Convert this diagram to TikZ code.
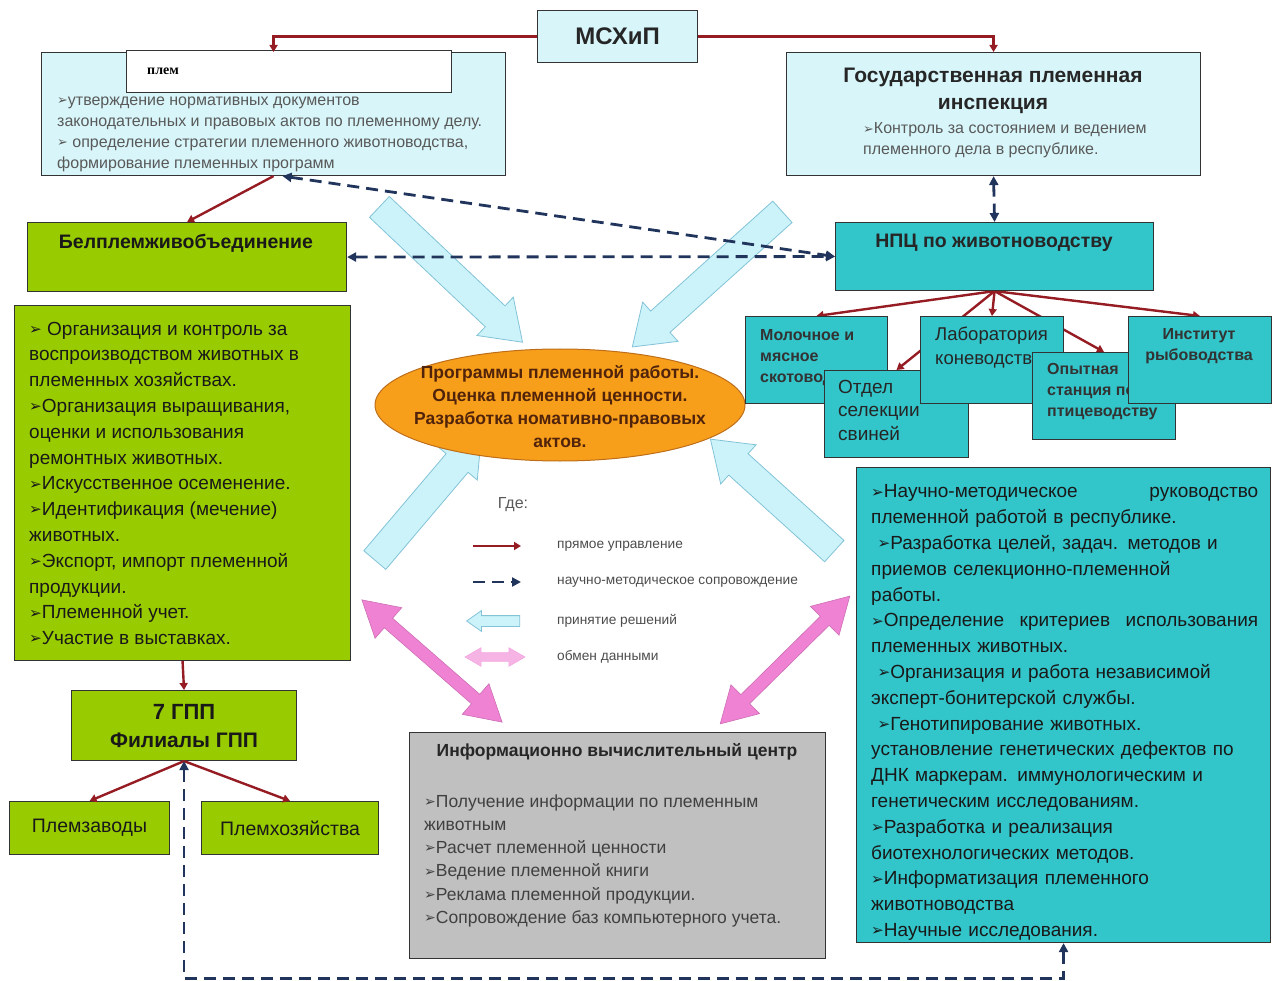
\documentclass[tikz,border=0pt]{standalone}
\usepackage{fontspec}
\setmainfont{Liberation Sans}
\newfontfamily\serifplem{Liberation Serif}
\newfontfamily\dingfont{DejaVu Sans}
\usetikzlibrary{arrows.meta,shapes.geometric,shapes.arrows,backgrounds}
\definecolor{palecyan}{RGB}{216,246,250}
\definecolor{npcteal}{RGB}{50,197,202}
\definecolor{plemgreen}{RGB}{153,204,0}
\definecolor{ivcgray}{RGB}{192,192,192}
\definecolor{progorange}{RGB}{247,158,27}
\definecolor{progedge}{RGB}{190,110,25}
\definecolor{progtext}{RGB}{80,35,10}
\definecolor{directred}{RGB}{150,28,36}
\definecolor{sciblue}{RGB}{32,52,92}
\definecolor{decidecyan}{RGB}{204,243,249}
\definecolor{decideedge}{RGB}{130,195,215}
\definecolor{datapink}{RGB}{240,130,212}
\newcommand\fs[2]{\fontsize{#1}{#2}\selectfont}
\newcommand\bul{\raisebox{.05em}{\dingfont\scalebox{.8}{\char"27A2}}}
\begin{document}
\begin{tikzpicture}[x=1pt, y=-1pt,
	box/.style={draw=black!80, line width=1.1pt, inner sep=0pt, anchor=north west},
	txt/.style={inner sep=0pt, anchor=north west, align=left},
	direct/.style={draw=directred, line width=2.4pt, -{Triangle[length=7pt,width=8pt]}},
	sci/.style={draw=sciblue, line width=2.8pt, dash pattern=on 12pt off 7pt, >={Triangle[length=9pt,width=9pt]}},
	decide/.style={single arrow, draw=decideedge, fill=decidecyan, line width=.8pt, inner sep=14pt, single arrow head extend=12pt, single arrow tip angle=70, anchor=center},
	exchange/.style={double arrow, draw=datapink!85!black, fill=datapink, line width=.6pt, inner sep=6pt, double arrow head extend=14pt, double arrow tip angle=60, anchor=center}]
	\useasboundingbox (0,0) rectangle (1274,981);
	% принятие решений, обмен данными
	\node[decide, minimum height=197pt, rotate=-43.4] (dec1) at (443.5,267.5) {};
	\node[decide, minimum height=202pt, rotate=-138]  (dec2) at (715,272.5) {};
	\node[decide, minimum height=165pt, rotate=49.7]  (dec3) at (421.5,505) {};
	\node[decide, minimum height=167pt, rotate=137.9] (dec4) at (780,502) {};
	\node[exchange, minimum height=186pt, rotate=-41.1] (exch1) at (432,661) {};
	\node[exchange, minimum height=182pt, rotate=44.6]  (exch2) at (785,660) {};
	\node[ellipse, draw=progedge, line width=1pt, fill=progorange, minimum width=370pt, minimum height=112pt, inner sep=0pt] (prog) at (560,405) {};
	\node[align=center, inner sep=0pt, font={\fs{17.5}{23}\bfseries}, text=progtext] (progtxt) at (560,407) {Программы племенной работы.\\Оценка племенной ценности.\\Разработка номативно-правовых\\актов.};
	% верх
	\node[box, fill=palecyan, minimum width=160pt, minimum height=52pt, font={\fs{24}{28}\bfseries}, text=black!85] (msh) at (537,10) {МСХиП};
	\node[box, fill=palecyan, minimum width=464pt, minimum height=123pt] (tl) at (41,52) {};
	\node[box, fill=white, line width=1.4pt, minimum width=325pt, minimum height=42pt] (plem) at (126,50) {};
	\node[inner sep=0pt, anchor=west, font={\serifplem\fs{14}{16}\bfseries}] (plemtxt) at (147,71) {плем};
	\node[txt, font={\fs{16}{21}}, text=black!65] (tltxt) at (57,96.7) {\bul утверждение нормативных документов\\законодательных и правовых актов по племенному делу.\\\bul\ определение стратегии племенного животноводства,\\формирование племенных программ};
	\node[box, fill=palecyan, minimum width=414pt, minimum height=123pt] (insp) at (786,52) {};
	\node[align=center, inner sep=0pt, font={\fs{21}{27}\bfseries}, text=black!85] (insptitle) at (993,91) {Государственная племенная\\инспекция};
	\node[txt, font={\fs{16}{21}}, text=black!65] (insptxt) at (863,122.7) {\bul Контроль за состоянием и ведением\\племенного дела в республике.};
	\node[box, fill=npcteal, minimum width=318pt, minimum height=68pt] (npc) at (835,222) {};
	\node[inner sep=0pt, font={\fs{19.5}{22}\bfseries}, text=black!85] (npctxt) at (994,243) {НПЦ по животноводству};
	\node[box, fill=plemgreen, minimum width=319pt, minimum height=69pt] (bel) at (27,222) {};
	\node[inner sep=0pt, font={\fs{19.5}{22}\bfseries}, text=black!90] (beltxt) at (186,243) {Белплемживобъединение};
	% слева
	\node[box, fill=plemgreen, minimum width=336pt, minimum height=355pt] (tasks) at (14,305) {};
	\node[txt, font={\fs{19}{25.8}}, text=black!90] (taskstxt) at (29,321.7) {\bul\ Организация и контроль за\\воспроизводством животных в\\племенных хозяйствах.\\\bul Организация выращивания,\\оценки и использования\\ремонтных животных.\\\bul Искусственное осеменение.\\\bul Идентификация (мечение)\\животных.\\\bul Экспорт, импорт племенной\\продукции.\\\bul Племенной учет.\\\bul Участие в выставках.};
	\node[box, fill=plemgreen, minimum width=225pt, minimum height=70pt, align=center, font={\fs{21}{28}\bfseries}, text=black!90] (gpp) at (71,690) {{\fs{22}{28}7 ГПП}\\Филиалы ГПП};
	\node[box, fill=plemgreen, minimum width=160pt, minimum height=53pt, font={\fs{19.5}{22}}, text=black!90] (zav) at (9,801) {Племзаводы};
	\node[box, fill=plemgreen, minimum width=177pt, minimum height=53pt, font={\fs{19.5}{22}}, text=black!90] (hoz) at (201,801) {Племхозяйства};
	% низ
	\node[box, fill=ivcgray, minimum width=416pt, minimum height=226pt] (ivc) at (409,732) {};
	\node[inner sep=0pt, font={\fs{17.5}{20}\bfseries}, text=black!85] (ivctitle) at (617,752) {Информационно вычислительный центр};
	\node[txt, font={\fs{17.5}{23.2}}, text=black!75] (ivctxt) at (424,794.5) {\bul Получение информации по племенным\\животным\\\bul Расчет племенной ценности\\\bul Ведение племенной книги\\\bul Реклама племенной продукции.\\\bul Сопровождение баз компьютерного учета.};
	% справа
	\node[box, fill=npcteal, minimum width=414pt, minimum height=475pt] (nauka) at (856,467) {};
	\node[txt, text width=387pt, font={\fs{19}{25.8}}, text=black!90] (naukatxt) at (871,484.7) {\bul Научно-методическое\hfill руководство\\племенной работой в республике.\\\ \bul Разработка целей, задач. методов и\\приемов селекционно-племенной\\работы.\\\bul Определение\hfill критериев\hfill использования\\племенных животных.\\\ \bul Организация и работа независимой\\эксперт-бонитерской службы.\\\ \bul Генотипирование животных.\\установление генетических дефектов по\\ДНК маркерам. иммунологическим и\\генетическим исследованиям.\\\bul Разработка и реализация\\биотехнологических методов.\\\bul Информатизация племенного\\животноводства\\\bul Научные исследования.};
	% отделы НПЦ
	\node[box, fill=npcteal, line width=1pt, minimum width=142pt, minimum height=87pt] (milk) at (745,316) {};
	\node[txt, font={\fs{16}{21}\bfseries}, text=black!80] (milktxt) at (760,329) {Молочное и\\мясное\\скотоводство};
	\node[box, fill=npcteal, line width=1pt, minimum width=144pt, minimum height=87pt] (pig) at (824,370) {};
	\node[txt, font={\fs{19}{23.5}}, text=black!85] (pigtxt) at (838,380) {Отдел\\селекции\\свиней};
	\node[box, fill=npcteal, line width=1pt, minimum width=143pt, minimum height=87pt] (horse) at (920,316) {};
	\node[txt, font={\fs{18.5}{24}}, text=black!85] (horsetxt) at (935,327) {Лаборатория\\коневодства};
	\node[box, fill=npcteal, line width=1pt, minimum width=143pt, minimum height=87pt] (bird) at (1032,352) {};
	\node[txt, font={\fs{16}{21}\bfseries}, text=black!80] (birdtxt) at (1047,363) {Опытная\\станция по\\птицеводству};
	\node[box, fill=npcteal, line width=1pt, minimum width=143pt, minimum height=87pt] (fish) at (1128,316) {};
	\node[align=center, inner sep=0pt, font={\fs{16}{21}\bfseries}, text=black!80] (fishtxt) at (1199,346.5) {Институт\\рыбоводства};
	% прямое управление
	\draw[direct] (msh.west) -| (tl.north);
	\draw[direct] (msh.east) -| (insp.north);
	\draw[direct] (tl.south) -- (bel.north);
	\draw[direct] (tasks.south) -- (gpp.north);
	\draw[direct] (gpp.south) -- (zav.north);
	\draw[direct] (gpp.south) -- (hoz.north);
	\begin{pgfonlayer}{background}
		\draw[direct] (npc.south) -- (milk.north);
		\draw[direct] (npc.south) -- (pig.north);
		\draw[direct] (npc.south) -- (horse.north);
		\draw[direct] (npc.south) -- (bird.north);
		\draw[direct] (npc.south) -- (fish.north);
	\end{pgfonlayer}
	% сопровождение
	\draw[sci,<->] (insp.south) -- (npc.north);
	\draw[sci,<->] ([xshift=9pt]tl.south) -- (npc.west);
	\draw[sci,<->] (bel.east) -- (npc.west);
	\draw[sci,<->] (nauka.south) -- ++(0,35) -| (gpp.south);
	% Где
	\node[inner sep=0pt, font={\fs{16}{20}}, text=black!65] (where) at (513,505) {Где:};
	\coordinate (ldira) at (473,546);
	\coordinate (ldirb) at (521,546);
	\draw[direct] (ldira) -- (ldirb);
	\node[inner sep=0pt, anchor=west, font={\fs{13.7}{16}}, text=black!70] (ldir) at (557,546) {прямое управление};
	\coordinate (lscia) at (473,582);
	\coordinate (lscib) at (521,582);
	\draw[sci,->] (lscia) -- (lscib);
	\node[inner sep=0pt, anchor=west, font={\fs{13.7}{16}}, text=black!70] (lsci) at (557,582) {научно-методическое сопровождение};
	\node[decide, minimum height=53pt, inner sep=5pt, single arrow head extend=5pt, rotate=180] (ldec) at (497,621) {};
	\node[inner sep=0pt, anchor=west, font={\fs{13.7}{16}}, text=black!70] (ldectxt) at (557,621) {принятие решений};
	\node[exchange, minimum height=60pt, inner sep=4pt, double arrow head extend=5pt, fill=datapink!60, draw=datapink!70] (lexch) at (495,657) {};
	\node[inner sep=0pt, anchor=west, font={\fs{13.7}{16}}, text=black!70] (lexchtxt) at (557,657) {обмен данными};
\end{tikzpicture}
\end{document}
